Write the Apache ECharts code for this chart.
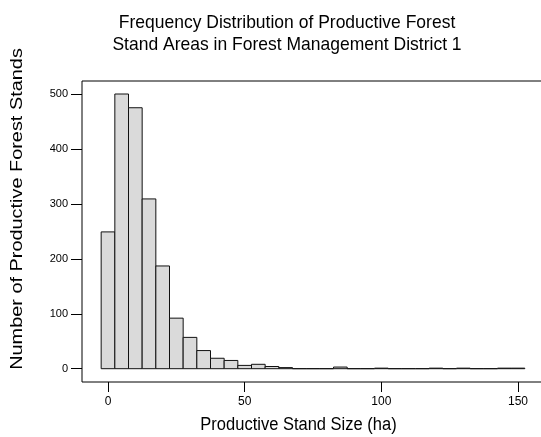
<!DOCTYPE html>
<html>
<head>
<meta charset="utf-8">
<script src="https://cdn.jsdelivr.net/npm/echarts@6/dist/echarts.min.js"></script>
<style>html,body{margin:0;padding:0;background:#fff;}#c{width:541px;height:437px;}</style>
</head>
<body>
<div id="c"></div>
<script>
var binCenters = [0,5,10,15,20,25,30,35,40,45,50,55,60,65,70,75,80,85,90,95,100,105,110,115,120,125,130,135,140,145,150];
var counts = [249,500,475,309,187,92,57,33,19,15,6,8,4,2,0,0,0,3,0,0,1,0,0,0,1,0,1,0,0,1,1];
var binWidth = 5;
var xTicks = [0,50,100,150];
var yTicks = [0,100,200,300,400,500];
var titleLines = ['Frequency Distribution of Productive Forest','Stand Areas in Forest Management District 1'];
var xTitle = 'Productive Stand Size (ha)';
var yTitle = 'Number of Productive Forest Stands';

var FONT = 'Liberation Sans, Arial, sans-serif';
var chart = echarts.init(document.getElementById('c'), null, {renderer:'canvas'});
var data = binCenters.map(function(c,i){return [c, counts[i]];});
var xMin = xTicks[0], xMax = xTicks[xTicks.length-1];
var yMin = yTicks[0], yMax = yTicks[yTicks.length-1];

function hiddenAxis(g){ return {gridIndex:g, type:'value', show:false, min:0, max:1}; }

chart.setOption({
  animation:false,
  backgroundColor:'#fff',
  grid:[
    {left:108, right:23, top:94, bottom:68.3, show:false, outerBoundsMode:'none'},   // data
    {left:82, right:23, top:94, bottom:68.3, show:false, outerBoundsMode:'none'},    // y axis holder
    {left:108, right:23, top:94, bottom:55, show:false, outerBoundsMode:'none'},     // x axis holder
    {left:82, right:-4, top:81, bottom:55, show:true, borderColor:'#000', borderWidth:1, backgroundColor:'transparent', outerBoundsMode:'none'} // frame
  ],
  xAxis:[
    {gridIndex:0, type:'value', min:xMin, max:xMax, show:false},
    hiddenAxis(1),
    {gridIndex:2, type:'value', min:xMin, max:xMax, interval:50,
     axisLine:{show:false}, splitLine:{show:false},
     axisTick:{show:true, length:10, lineStyle:{color:'#000', width:1}},
     axisLabel:{color:'#000', fontSize:12, fontFamily:FONT, margin:14}},
    hiddenAxis(3)
  ],
  yAxis:[
    {gridIndex:0, type:'value', min:yMin, max:yMax, show:false},
    {gridIndex:1, type:'value', min:yMin, max:yMax, interval:100,
     axisLine:{show:false}, splitLine:{show:false},
     axisTick:{show:true, length:11, lineStyle:{color:'#000', width:1}},
     axisLabel:{color:'#000', fontSize:11, fontFamily:FONT, margin:14}},
    hiddenAxis(2),
    hiddenAxis(3)
  ],
  series:[{
    type:'custom',
    xAxisIndex:0, yAxisIndex:0,
    clip:false,
    data:data,
    renderItem:function(params, api){
      var c = api.value(0), v = api.value(1);
      var p1 = api.coord([c - binWidth/2, v]);
      var p2 = api.coord([c + binWidth/2, 0]);
      return {
        type:'rect',
        shape:{x:p1[0], y:p1[1], width:p2[0]-p1[0], height:p2[1]-p1[1]},
        style:{fill:'#dadada', stroke:'#111', lineWidth:1}
      };
    }
  }],
  graphic:[
    {type:'text', x:287, y:23, scaleY:1.1, style:{text:titleLines[0], font:'17.5px '+FONT, fill:'#000', align:'center', verticalAlign:'middle'}},
    {type:'text', x:287, y:44.5, scaleY:1.1, style:{text:titleLines[1], font:'17.5px '+FONT, fill:'#000', align:'center', verticalAlign:'middle'}},
    {type:'text', x:298.5, y:424.5, scaleY:1.1, style:{text:xTitle, font:'16.5px '+FONT, fill:'#000', align:'center', verticalAlign:'middle'}},
    {type:'text', x:17.5, y:209, rotation:Math.PI/2, scaleX:1.17, style:{text:yTitle, font:'17px '+FONT, fill:'#000', align:'center', verticalAlign:'middle'}}
  ]
});
</script>
</body>
</html>
